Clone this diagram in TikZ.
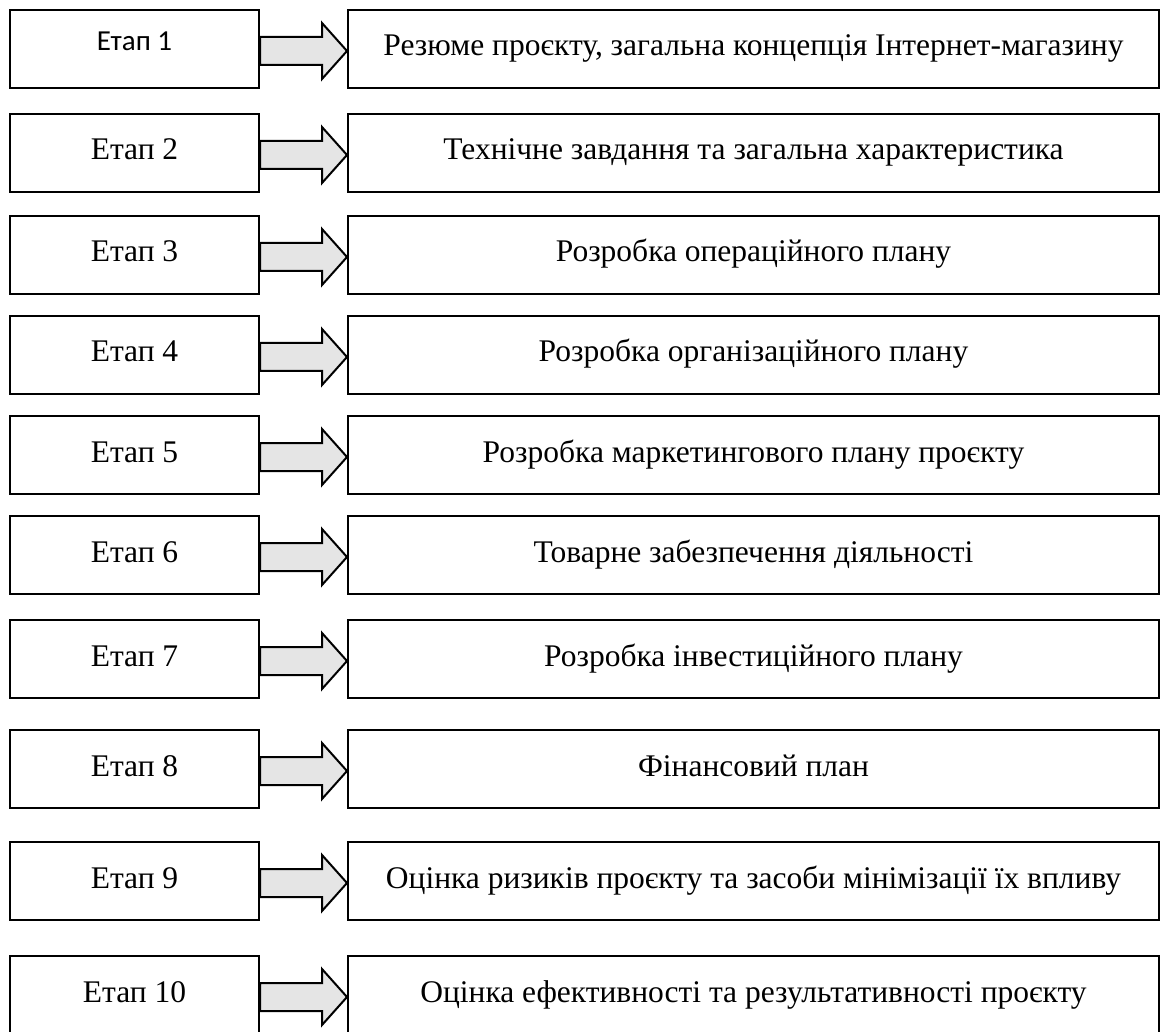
\documentclass[tikz,border=0pt]{standalone}
\usepackage{fontspec}
\setmainfont{Liberation Serif}
\newfontfamily\stagefont{Carlito}
\usetikzlibrary{calc}
\begin{document}
\begin{tikzpicture}[x=1pt,y=1pt,
  stagebox/.style={draw,line width=2pt,minimum width=249pt,minimum height=78pt,
    inner sep=0pt,text height=21pt,text depth=7pt,font=\fontsize{31.5}{34}\selectfont},
  taskbox/.style={stagebox,minimum width=811pt},
  stagearrow/.style={draw,line width=2pt,fill=gray!20,line join=miter}]
\useasboundingbox (0,0) rectangle (1160,-1032);
\foreach \n/\y/\txt in {1/49/{Резюме проєкту, загальна концепція Інтернет-магазину},
  2/153/{Технічне завдання та загальна характеристика},
  3/255/{Розробка операційного плану},
  4/355/{Розробка організаційного плану},
  5/455/{Розробка маркетингового плану проєкту},
  6/555/{Товарне забезпечення діяльності},
  7/659/{Розробка інвестиційного плану},
  8/769/{Фінансовий план},
  9/881/{Оцінка ризиків проєкту та засоби мінімізації їх впливу},
  10/995/{Оцінка ефективності та результативності проєкту}}{
  \node[stagebox] (s\n) at (134.5,-\y) {};
  \ifnum\n=1
    \node[font=\stagefont\fontsize{29}{32}\selectfont] at ($(s\n.center)+(0,8)$) {Етап \n};
  \else
    \node[font=\fontsize{31.5}{34}\selectfont,text height=21pt,text depth=7pt] at (s\n.center) {Етап \n};
  \fi
  \node[taskbox] (t\n) at (753.5,-\y) {\txt};
  % стрілка від етапу до змісту
  \draw[stagearrow] ($(s\n.east)+(0,12)$) -- ++(62,0) -- ++(0,14)
    -- ($(t\n.west)+(0,-2)$) -- ($(s\n.east)+(62,-30)$) -- ++(0,14)
    -- ($(s\n.east)+(0,-16)$) -- cycle;
}
\end{tikzpicture}
\end{document}
